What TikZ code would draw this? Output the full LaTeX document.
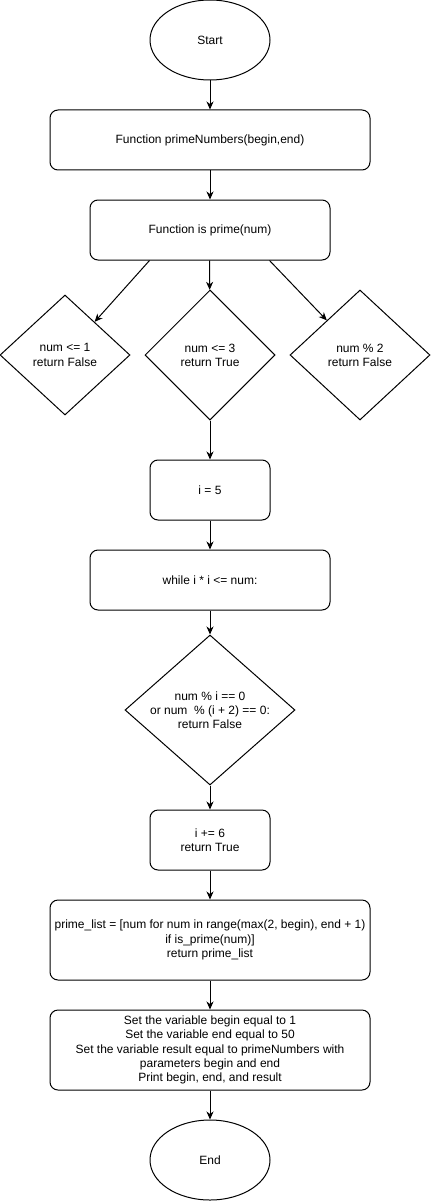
\documentclass[tikz,border=0pt]{standalone}
\usepackage{fontspec}
\setmainfont{Liberation Sans}
\usetikzlibrary{shapes.geometric,arrows.meta}

\begin{document}
\begin{tikzpicture}[x=1pt,y=-1pt,
                    font=\fontsize{12}{14.2}\selectfont,
                    terminal/.style={ellipse,draw=black,line width=1pt,minimum width=120pt,minimum height=80pt},
                    process/.style={rectangle,rounded corners=8pt,draw=black,line width=1pt,align=center,inner sep=0pt},
                    decision/.style={diamond,draw=black,line width=1pt,align=center,inner sep=0pt},
                    flow/.style={-{Stealth[length=8pt,width=7pt,inset=2.5pt]},line width=1pt}
                ]
                \useasboundingbox (0,0) rectangle (431,1201);
                \node[terminal] (start) at (210,40) {Start};
                \node[process,minimum width=320pt,minimum height=60pt] (primes) at (210,140) {Function primeNumbers(begin,end)};
                \node[process,minimum width=240pt,minimum height=60pt] (isprime) at (210,230) {Function is prime(num)};
                \node[decision,minimum width=130pt,minimum height=120pt] (lefttest) at (65,355) {num <= 1\\return False};
                \node[decision,minimum width=130pt,minimum height=130pt] (midtest) at (210,355) {num <= 3\\return True};
                \node[decision,minimum width=140pt,minimum height=130pt] (righttest) at (360,355) {num \% 2\\return False};
                \node[process,minimum width=120pt,minimum height=60pt] (ifive) at (210,490) {i = 5};
                \node[process,minimum width=240pt,minimum height=60pt] (loop) at (210,580) {while i * i <= num:};
                \node[decision,shape aspect=1.13,minimum width=170pt,minimum height=150pt] (divtest) at (210,710) {num \% i == 0\\or num \ \% (i + 2) == 0:\\return False};
                \node[process,minimum width=120pt,minimum height=60pt] (incr) at (210,840) {i += 6\\return True};
                \node[process,minimum width=320pt,minimum height=80pt] (primelist) at (210,940) {prime\_list = [num for num in range(max(2, begin), end + 1)\\if is\_prime(num)]\\return prime\_list};
                \node[process,minimum width=320pt,minimum height=80pt] (setup) at (210,1050) {Set the variable begin equal to 1\\Set the variable end equal to 50\\Set the variable result equal to primeNumbers with\\parameters begin and end\\Print begin, end, and result};
                \node[terminal] (finish) at (210,1160) {End};
                \foreach \name/\shift in {lefttest/60,midtest/120,righttest/180}
                    {
                    \draw[flow] ([xshift=\shift pt]isprime.south west) -- (\name);
                    }
                \foreach \a/\b in {start/primes,primes/isprime,midtest/ifive,ifive/loop,loop/divtest,divtest/incr,incr/primelist,primelist/setup,setup/finish}
                    {
                    \draw[flow] (\a) -- (\b);
                    }
                \end{tikzpicture}
\end{document}
